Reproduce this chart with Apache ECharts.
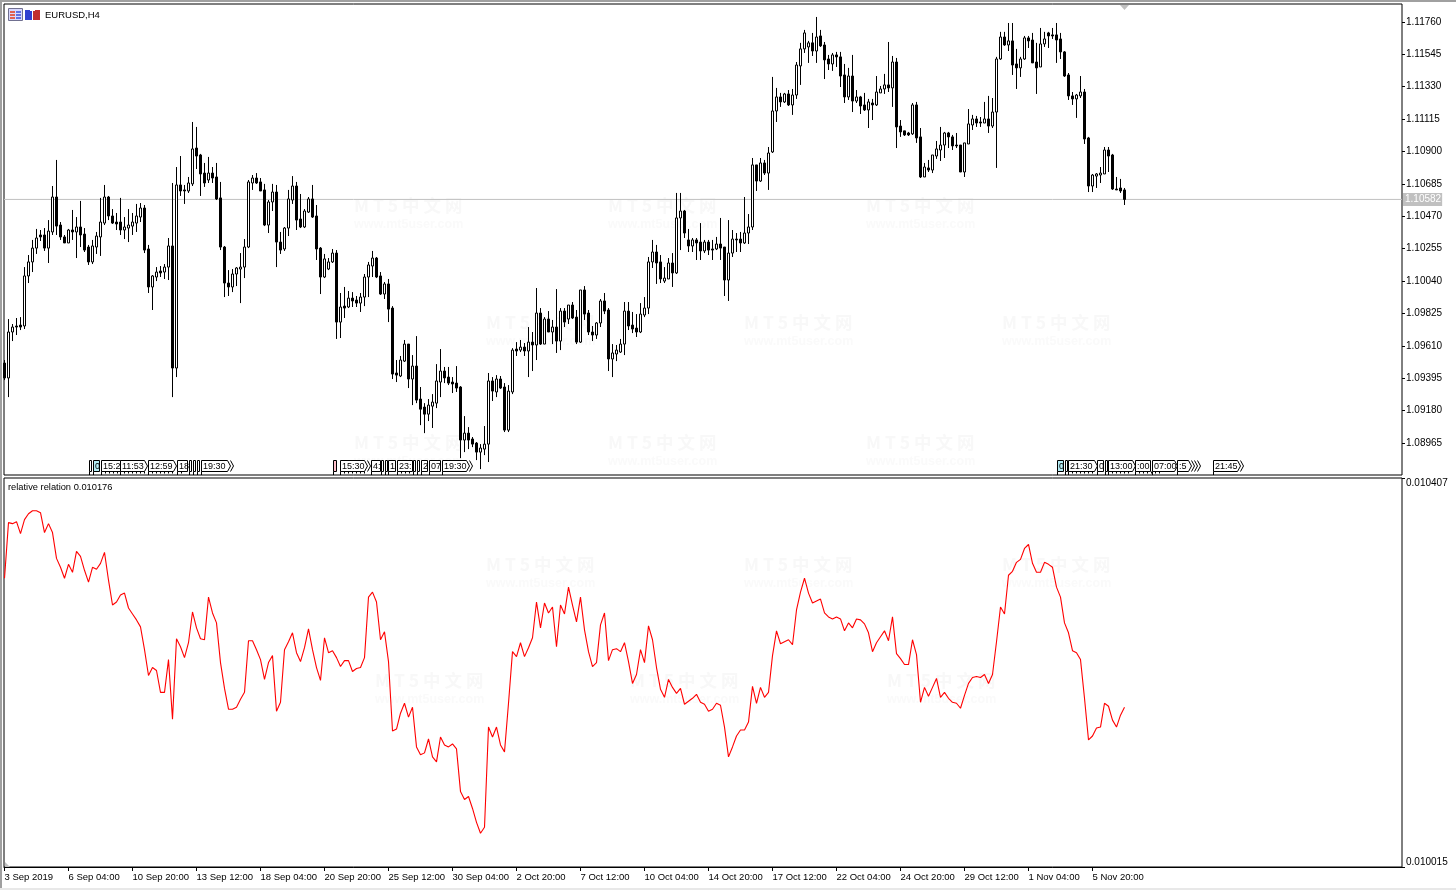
<!DOCTYPE html>
<html><head><meta charset="utf-8">
<style>html,body{margin:0;padding:0;background:#fff}#c{width:1456px;height:890px}</style>
<script src="https://cdn.jsdelivr.net/npm/echarts@6/dist/echarts.min.js"></script>
</head><body><div id="c"></div>
<script>
// prices in points (1e-5)
const opens=[109496,109397,109702,109742,109748,109742,110074,110167,110259,110346,110346,110259,110366,110598,110412,110333,110293,110379,110366,110399,
110352,110266,110167,110266,110333,110425,110598,110472,110432,110432,110379,110392,110405,110425,110465,110525,110253,110001,110067,110107,
110100,110133,110273,109463,110678,110645,110638,110685,110923,110877,110757,110711,110757,110731,110592,110266,110027,110001,110087,110120,
110133,110266,110691,110724,110698,110645,110412,110565,110631,110299,110253,110392,110578,110671,110452,110399,110498,110585,110472,110259,
110067,110120,110167,110226,109768,109874,109868,109927,109914,109894,109934,110067,110140,110193,110074,109954,110021,109861,109430,109410,
109509,109622,109390,109476,109257,109204,109157,109210,109230,109370,109443,109403,109370,109363,109337,108985,109031,108992,108965,108905,
108925,108958,109377,109304,109390,109337,109051,109304,109589,109582,109602,109576,109635,109616,109828,109622,109788,109702,109735,109642,
109841,109788,109881,109801,109635,109981,109828,109702,109682,109762,109908,109848,109523,109556,109569,109622,109841,109748,109728,109702,
109815,109861,110167,110233,110167,110040,110054,110160,110094,110459,110505,110313,110273,110313,110299,110240,110299,110253,110253,110286,
110266,110047,110226,110319,110319,110293,110359,110399,110811,110704,110824,110757,110897,111169,111262,111229,111282,111209,111275,111468,
111581,111594,111621,111567,111667,111607,111514,111481,111541,111528,111408,111262,111401,111235,111262,111209,111176,111222,111209,111289,
111315,111342,111322,111494,111069,111037,111023,111017,111209,110997,110731,110791,110777,110870,110910,110943,111023,110997,110943,110943,
110764,110950,111076,111116,111096,111089,111116,111069,111162,111514,111660,111607,111634,111481,111455,111514,111654,111640,111494,111461,
111614,111687,111674,111674,111647,111561,111408,111269,111249,111269,111295,110990,110671,110737,110744,110751,110910,110877,110651,110658,110645];
const closes=[109397,109702,109735,109735,109735,110074,110167,110259,110326,110333,110259,110372,110598,110405,110333,110293,110379,110366,110399,110346,
110246,110167,110273,110339,110432,110598,110472,110425,110419,110379,110399,110412,110432,110472,110525,110246,110001,110074,110100,110094,
110133,110273,109463,110678,110638,110638,110691,110917,110870,110751,110691,110757,110724,110585,110266,110027,110001,110087,110127,110133,
110266,110698,110724,110691,110638,110412,110565,110631,110299,110246,110392,110585,110671,110445,110399,110505,110585,110465,110253,110067,
110187,110167,110226,109768,109868,109861,109927,109908,109894,109934,110067,110147,110193,110067,109954,110021,109854,109423,109416,109516,
109622,109390,109476,109250,109190,109157,109217,109237,109377,109443,109397,109363,109357,109330,108985,109031,108985,108958,108905,108932,
108958,109377,109310,109390,109330,109051,109310,109582,109576,109602,109576,109635,109616,109828,109622,109788,109702,109735,109642,109841,
109768,109881,109795,109635,109981,109821,109702,109682,109762,109908,109841,109523,109563,109582,109622,109841,109742,109722,109702,109821,
109861,110167,110233,110160,110054,110060,110160,110094,110459,110505,110359,110273,110313,110293,110240,110299,110246,110246,110286,110259,
110047,110226,110319,110313,110293,110359,110399,110811,110704,110824,110757,110890,111169,111262,111229,111282,111209,111275,111474,111581,
111687,111621,111567,111660,111601,111508,111481,111541,111528,111401,111262,111401,111235,111262,111202,111176,111229,111209,111295,111315,
111342,111322,111494,111063,111030,111010,111010,111209,110990,110731,110797,110777,110877,110917,110943,111023,110997,110937,110937,110764,
110957,111083,111116,111089,111089,111116,111069,111162,111514,111660,111607,111634,111474,111455,111514,111654,111634,111488,111455,111614,
111647,111667,111667,111640,111561,111401,111269,111249,111275,111295,110983,110671,110744,110751,110757,110910,110870,110651,110645,110638,110582];
const highs=[109516,109788,109755,109795,109801,110133,110213,110313,110386,110379,110392,110445,110671,110844,110432,110346,110386,110512,110465,110572,
110392,110280,110313,110366,110592,110678,110605,110518,110492,110592,110465,110518,110492,110552,110558,110545,110280,110080,110133,110140,
110153,110326,110691,110797,110870,110678,110731,111096,111063,110884,110824,110864,110797,110824,110698,110273,110113,110120,110133,110226,
110319,110711,110744,110757,110724,110685,110578,110685,110678,110366,110399,110645,110737,110698,110618,110518,110598,110678,110545,110266,
110220,110193,110253,110246,109961,110001,109974,109967,109941,109961,110087,110167,110240,110200,110100,110034,110054,109874,109516,109543,
109649,109622,109549,109675,109337,109230,109257,109290,109489,109589,109470,109470,109403,109476,109343,109144,109071,109005,108972,108958,
109078,109430,109403,109416,109410,109363,109350,109595,109635,109649,109629,109735,109702,109994,109861,109801,109841,109782,109987,109861,
109861,109881,109901,109848,109981,110007,109848,109742,109768,109921,109961,109861,109622,109616,109656,109901,109901,109835,109821,109894,
109934,110200,110313,110280,110213,110133,110193,110226,110625,110625,110512,110386,110326,110326,110425,110313,110313,110313,110333,110459,
110266,110445,110379,110359,110366,110598,110485,110857,110811,110857,110844,110930,111395,111322,111289,111289,111308,111315,111494,111621,
111707,111634,111687,111793,111707,111627,111541,111554,111561,111561,111481,111455,111541,111308,111269,111289,111249,111249,111401,111335,
111415,111627,111534,111521,111109,111037,111030,111222,111229,111056,110824,110844,110877,110970,111063,111030,111030,111010,111023,110943,
110957,111182,111143,111136,111129,111229,111269,111255,111528,111694,111694,111753,111753,111581,111528,111667,111667,111687,111621,111720,
111694,111694,111720,111753,111687,111567,111421,111295,111282,111401,111315,110997,110751,110757,110797,110930,110930,110884,110731,110718,110658];
const lows=[109383,109270,109642,109682,109715,109722,110027,110100,110220,110306,110240,110160,110346,110346,110313,110293,110293,110313,110193,110266,
110233,110147,110153,110220,110207,110412,110445,110419,110379,110346,110319,110299,110346,110366,110432,110226,109961,109848,110040,110067,
110054,110047,109270,109403,110605,110552,110625,110671,110784,110605,110665,110691,110691,110578,110246,109934,109941,109967,110007,109894,
110060,110259,110645,110685,110638,110405,110359,110505,110133,110220,110240,110339,110552,110379,110392,110392,110492,110459,110180,109954,
110060,110113,110160,109656,109662,109795,109861,109868,109868,109835,109874,109934,110067,110060,109948,109921,109768,109390,109370,109403,
109503,109330,109217,109230,109084,109031,109111,109065,109197,109270,109363,109350,109297,109304,108865,108905,108925,108938,108852,108792,
108885,108839,109244,109270,109324,109038,109038,109290,109543,109569,109543,109403,109443,109516,109616,109622,109702,109622,109563,109582,
109735,109755,109788,109622,109629,109782,109682,109642,109656,109735,109821,109443,109403,109509,109563,109549,109715,109695,109669,109695,
109801,109821,110127,110021,110027,110027,110054,110001,110087,110246,110326,110233,110233,110180,110180,110226,110213,110180,110246,110180,
109941,109908,110200,110233,110233,110286,110286,110379,110638,110698,110744,110645,110890,111096,111196,111222,111202,111143,111249,111342,
111554,111488,111534,111488,111594,111381,111441,111435,111461,111328,111222,111242,111162,111222,111149,111169,111056,111109,111202,111289,
111282,111295,111196,110923,110997,111003,111003,111010,110957,110724,110731,110764,110757,110851,110837,110857,110923,110910,110923,110764,
110731,110950,111043,111063,111063,111089,111023,111056,110791,111508,111601,111567,111408,111315,111395,111508,111587,111488,111282,111461,
111594,111587,111647,111488,111514,111395,111242,111209,111123,111255,110950,110631,110631,110658,110691,110751,110764,110645,110645,110625,110545];
// indicator values in 1e-6
const relation=[10306,10362,10361,10363,10351,10365,10371,10374,10374,10372,10352,10361,10352,10326,10317,10306,10320,10312,10333,10328,
10314,10302,10317,10315,10321,10332,10304,10279,10282,10289,10291,10276,10270,10264,10257,10234,10208,10216,10213,10191,
10191,10224,10164,10245,10237,10226,10241,10272,10256,10245,10244,10287,10271,10261,10221,10195,10174,10174,10176,10184,
10191,10243,10243,10234,10224,10204,10221,10228,10172,10181,10234,10242,10251,10231,10222,10236,10255,10234,10216,10203,
10246,10231,10233,10226,10217,10223,10223,10212,10215,10216,10226,10287,10292,10282,10244,10252,10222,10152,10154,10170,
10180,10166,10176,10136,10128,10130,10144,10126,10121,10146,10138,10136,10139,10134,10091,10083,10086,10074,10060,10049,
10055,10156,10146,10156,10138,10131,10180,10232,10227,10241,10227,10236,10246,10282,10256,10281,10271,10277,10237,10279,
10270,10297,10279,10262,10287,10254,10232,10217,10221,10259,10271,10223,10234,10235,10232,10241,10222,10200,10209,10234,
10221,10258,10244,10216,10194,10186,10204,10196,10190,10195,10179,10182,10185,10189,10181,10179,10172,10174,10180,10178,
10156,10126,10136,10147,10153,10153,10161,10197,10180,10196,10186,10191,10228,10253,10240,10242,10244,10239,10274,10292,
10306,10291,10281,10283,10285,10271,10267,10265,10267,10265,10253,10261,10256,10265,10264,10260,10251,10232,10241,10247,
10253,10243,10267,10230,10225,10219,10219,10244,10229,10181,10196,10187,10196,10205,10186,10191,10185,10181,10180,10175,
10188,10200,10206,10207,10206,10209,10200,10209,10242,10277,10270,10309,10313,10322,10325,10336,10340,10321,10312,10312,
10322,10320,10317,10297,10287,10261,10251,10233,10231,10224,10185,10143,10147,10155,10156,10180,10177,10163,10156,10168,10176];
const timeLabels=['3 Sep 2019','6 Sep 04:00','10 Sep 20:00','13 Sep 12:00','18 Sep 04:00','20 Sep 20:00','25 Sep 12:00','30 Sep 04:00','2 Oct 20:00','7 Oct 12:00','10 Oct 04:00','14 Oct 20:00','17 Oct 12:00','22 Oct 04:00','24 Oct 20:00','29 Oct 12:00','1 Nov 04:00','5 Nov 20:00'];
const priceTicks=[1.11760,1.11545,1.11330,1.11115,1.10900,1.10685,1.10470,1.10255,1.10040,1.09825,1.09610,1.09395,1.09180,1.08965];
const relationTicks=[0.010015,0.010407];
const lastPrice=1.10582;
// event tags: start, end, text, fill, chevrons, small ticks
const tagStarts=[89,93,101,120,148,177,189,193,197,201,333,340,371,381,385,388,397,413,417,421,429,442,1057,1065,1068,1097,1105,1108,1135,1152,1177,1213];
const tagEnds=[91,99,120,147,176,187,191,195,199,233,336,370,380,383,387,395,412,415,419,427,440,472,1063,1067,1097,1103,1107,1135,1150,1177,1200,1243];
const tagTexts=['','0','15:2','11:53','12:59','18','','','','19:30','','15:30','4:','','','1','23:','','','2','07','19:30','0','','21:30','0','','13:00',':00','07:00',':5','21:45'];
const tagFills=['#fff','#b4ecf4','#fff','#fff','#fff','#fff','#fff','#fff','#fff','#fff','#ffc0cb','#fff','#fff','#fff','#fff','#fff','#fff','#fff','#fff','#fff','#fff','#fff','#b4ecf4','#fff','#fff','#fff','#fff','#fff','#fff','#fff','#fff','#fff'];
const tagChevrons=[0,0,0,1,1,0,0,0,0,2,0,2,0,0,0,0,0,0,0,0,0,2,0,0,1,0,0,1,0,1,4,2];
const tagTicks=[1,1,5,7,7,2,1,1,1,1,1,7,1,1,1,1,4,1,1,1,1,1,1,1,7,1,1,6,7,1,1,1];
// watermark anchors
const markX=[354,608,866,486,744,1002,354,608,866];
const markY=[197,197,197,314,314,314,434,434,434];
const markX2=[486,744,1002,375,630,887];
const markY2=[556,556,556,672,672,672];

const FONT='"Liberation Sans"';
const xMin=-0.125,xMax=349.375;
const graphics=[];
function rect(x,y,w,h,fill,z){graphics.push({type:'rect',silent:true,z:z||0,shape:{x,y,width:w,height:h},style:{fill}});}
// window chrome
rect(0,0,1456,2,'#a0a0a0');rect(0,0,2,890,'#a0a0a0');rect(0,888,1456,2,'#e8e8e8');
// watermarks
function mark(x,y){
  graphics.push({type:'text',silent:true,z:0,x:x,y:y,style:{text:'M T 5 中 文 网',fill:'#f8f8f8',font:'bold 17.5px "Noto Sans CJK SC"',textVerticalAlign:'top'}});
  graphics.push({type:'text',silent:true,z:0,x:x,y:y+21,style:{text:'www.mt5user.com',fill:'#fafafa',font:'bold 12.5px "Liberation Sans"',textVerticalAlign:'top'}});
}
markX.forEach((x,i)=>mark(x,markY[i]));
markX2.forEach((x,i)=>mark(x,markY2[i]));
// header icons
graphics.push({type:'rect',silent:true,z:5,shape:{x:8.5,y:8.5,width:14,height:12},style:{fill:'#d8d8ff',stroke:'#707090',lineWidth:1}});
rect(10,11,5,2,'#e06050',6);rect(16,11,5,2,'#6070e0',6);rect(10,14,5,2,'#e06050',6);rect(16,14,5,2,'#6070e0',6);rect(10,17,5,2,'#e06050',6);rect(16,17,5,2,'#6070e0',6);
rect(25,10,7,10,'#3040d0',6);rect(33,10,7,10,'#c03030',6);rect(30,8,5,3,'#fff',7);
graphics.push({type:'text',silent:true,z:6,x:45,y:15,style:{text:'EURUSD,H4',fill:'#000',font:'9.5px '+FONT,textVerticalAlign:'middle'}});
graphics.push({type:'text',silent:true,z:6,x:8,y:487,style:{text:'relative relation 0.010176',fill:'#000',font:'9.3px '+FONT,textVerticalAlign:'middle'}});
// shift markers
graphics.push({type:'polygon',silent:true,z:6,shape:{points:[[1120,5],[1129,5],[1124.5,10]]},style:{fill:'#c0c0c0'}});
graphics.push({type:'polygon',silent:true,z:6,shape:{points:[[5,862],[5,867],[10,867]]},style:{fill:'#c0c0c0'}});
// event tags
tagStarts.forEach((s,i)=>{
  const n=tagChevrons[i],e=tagEnds[i]+0.5-Math.max(0,n-1)*3,l=s+0.5,t=460.5,b=471.5,m=466;
  const pts=n?[[l,t],[e-3,t],[e,m],[e-3,b],[l,b]]:[[l,t],[e,t],[e,b],[l,b]];
  graphics.push({type:'polygon',silent:true,z:7,shape:{points:pts},style:{fill:tagFills[i],stroke:'#000',lineWidth:1}});
  for(let k=1;k<n;k++)graphics.push({type:'polyline',silent:true,z:7,shape:{points:[[e-3+3*k,t],[e+3*k,m],[e-3+3*k,b]]},style:{stroke:'#000',lineWidth:1,fill:null}});
  if(tagTexts[i])graphics.push({type:'text',silent:true,z:8,x:l+1.5,y:467,style:{text:tagTexts[i],fill:'#000',font:'9px '+FONT,textVerticalAlign:'middle'}});
  for(let k=0;k<tagTicks[i];k++)graphics.push({type:'line',silent:true,z:7,shape:{x1:l+k*4,y1:471.5,x2:l+k*4,y2:k?473.5:475},style:{stroke:'#000',lineWidth:1}});
});

const candleData=opens.map((o,i)=>[i,o/1e5,closes[i]/1e5,lows[i]/1e5,highs[i]/1e5]);
const lineData=relation.map((v,i)=>[i,v/1e6]);
const lastLineData=[[xMin,lastPrice],[xMax,lastPrice]];
const tickIdx=timeLabels.map((_,i)=>i*16);

const chart=echarts.init(document.getElementById('c'),null,{renderer:'canvas'});
chart.setOption({
  animation:false,
  backgroundColor:'#fff',
  graphic:graphics,
  grid:[
    {left:4,top:4,width:1398,height:471,show:true,borderColor:'#000',borderWidth:1,backgroundColor:'transparent',containLabel:false},
    {left:4,top:478,width:1398,height:389,show:true,borderColor:'#000',borderWidth:1,backgroundColor:'transparent',containLabel:false}
  ],
  xAxis:[
    {type:'value',gridIndex:0,min:xMin,max:xMax,axisLine:{show:false,onZero:false},axisTick:{show:false},axisLabel:{show:false},splitLine:{show:false}},
    {type:'value',gridIndex:1,min:xMin,max:xMax,axisLine:{show:true,onZero:false,lineStyle:{color:'#000'}},
     axisTick:{show:true,length:4,inside:false,customValues:tickIdx,lineStyle:{color:'#000'}},
     axisLabel:{show:true,customValues:tickIdx,formatter:v=>timeLabels[Math.round(v/16)]||'',align:'left',margin:5,color:'#000',fontFamily:FONT,fontSize:9.5,hideOverlap:false},
     splitLine:{show:false}}
  ],
  yAxis:[
    {type:'value',gridIndex:0,position:'right',min:1.08753,max:1.11879,scale:true,axisLine:{show:false,onZero:false},
     axisTick:{show:true,length:3,customValues:priceTicks,lineStyle:{color:'#000'}},
     axisLabel:{show:true,customValues:priceTicks,formatter:v=>v.toFixed(5),margin:4,color:'#000',fontFamily:FONT,fontSize:10,padding:[4,0,0,0]},
     splitLine:{show:false}},
    {type:'value',gridIndex:1,position:'right',min:0.010015,max:0.010407,scale:true,axisLine:{show:false,onZero:false},
     axisTick:{show:true,length:3,customValues:relationTicks,lineStyle:{color:'#000'}},
     axisLabel:{show:true,customValues:relationTicks,formatter:v=>v.toFixed(6),margin:4,color:'#000',fontFamily:FONT,fontSize:10,verticalAlignMinLabel:'bottom',verticalAlignMaxLabel:'top'},
     splitLine:{show:false}}
  ],
  series:[
    {type:'line',name:'last price',xAxisIndex:0,yAxisIndex:0,data:lastLineData,showSymbol:false,symbol:'none',z:1,silent:true,
     lineStyle:{color:'#c0c0c0',width:1},
     endLabel:{show:true,formatter:()=>lastPrice.toFixed(5),color:'#fff',backgroundColor:'#c0c0c0',padding:[2,1,1,2],fontFamily:FONT,fontSize:10,distance:1}},
    {type:'candlestick',xAxisIndex:0,yAxisIndex:0,barWidth:2,z:3,
     itemStyle:{color:'#fff',color0:'#000',borderColor:'#000',borderColor0:'#000',borderWidth:1},
     data:candleData},
    {type:'line',xAxisIndex:1,yAxisIndex:1,data:lineData,showSymbol:false,symbol:'none',smooth:false,lineStyle:{color:'#ff0000',width:1.1},z:3}
  ]
});
</script></body></html>
